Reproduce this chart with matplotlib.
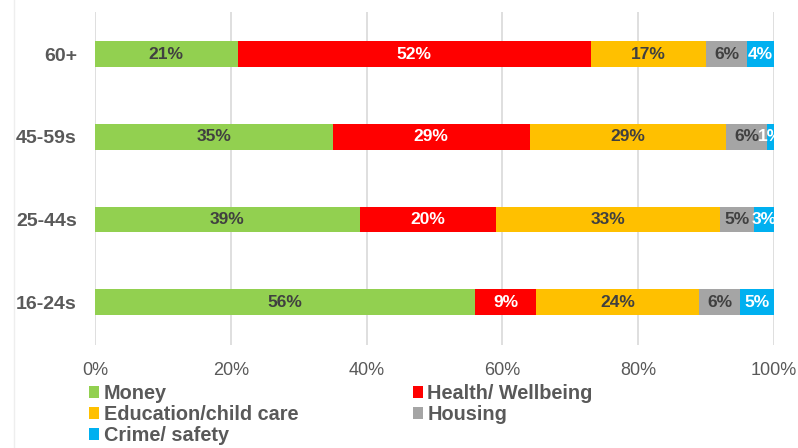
import matplotlib
matplotlib.use("Agg")
import matplotlib.pyplot as plt
from matplotlib.patches import Patch
from matplotlib.lines import Line2D

plt.rcParams['font.family'] = ['Liberation Sans', 'DejaVu Sans']

categories = ["16-24s", "25-44s", "45-59s", "60+"]
series_names = ["Money", "Health/ Wellbeing", "Education/child care", "Housing", "Crime/ safety"]
money = [56, 39, 35, 21]
health = [9, 20, 29, 52]
education = [24, 33, 29, 17]
housing = [6, 5, 6, 6]
crime = [5, 3, 1, 4]
xticks = [0, 20, 40, 60, 80, 100]
xticklabels = ["0%", "20%", "40%", "60%", "80%", "100%"]

colors = ["#92D050", "#FF0000", "#FFC000", "#A5A5A5", "#00B0F0"]
label_colors = ["#404040", "white", "#404040", "#404040", "white"]
series = [money, health, education, housing, crime]

fig = plt.figure(figsize=(7.98, 4.48), dpi=100)
ax = fig.add_axes([95/798, 1-345/448, (774-95)/798, 333/448])

ypos = list(range(len(categories)))
left = [0]*len(categories)
for vals, col, lc, name in zip(series, colors, label_colors, series_names):
    bars = ax.barh(ypos, vals, left=left, height=0.31, color=col, label=name, zorder=3)
    for b, v in zip(bars, vals):
        ax.text(b.get_x() + b.get_width()/2, b.get_y() + b.get_height()/2, f"{v}%",
                ha='center', va='center', color=lc, fontsize=12.5, fontweight='bold', zorder=4)
    left = [l + v for l, v in zip(left, vals)]

ax.set_xlim(0, 100)
ax.set_ylim(-0.52, 3.51)
ax.set_xticks(xticks)
ax.set_xticklabels(xticklabels)
ax.set_yticks(ypos)
ax.set_yticklabels(categories)
ax.tick_params(axis='both', length=0, colors='#595959')
ax.tick_params(axis='x', labelsize=13, pad=12)
ax.tick_params(axis='y', labelsize=14, pad=13)
for t in ax.get_yticklabels():
    t.set_fontweight('bold')
ax.grid(axis='x', color='#D9D9D9', linewidth=1.2, zorder=0)
for s in ax.spines.values():
    s.set_visible(False)

fig.add_artist(Line2D([14/798, 14/798], [0, 1], color='#EEEEEE', linewidth=1, transform=fig.transFigure))

handles = [Patch(facecolor=c, edgecolor='none') for c in colors]
order = [0, 2, 4, 1, 3]
leg = fig.legend([handles[i] for i in order], [series_names[i] for i in order],
                 ncol=2, loc='upper left', bbox_to_anchor=(89/798, 1-384/448),
                 frameon=False, fontsize=14.3, handlelength=0.5, handleheight=0.5,
                 handletextpad=0.25, labelspacing=0.1, columnspacing=5.75,
                 borderpad=0, borderaxespad=0)
for t in leg.get_texts():
    t.set_color('#595959')
    t.set_fontweight('bold')

fig.savefig("out.png", dpi=100)
